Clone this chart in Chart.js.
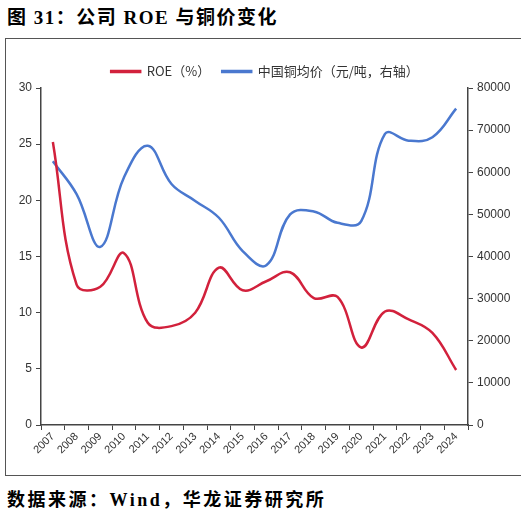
<!DOCTYPE html>
<html>
<head>
<meta charset="utf-8">
<script src="https://cdn.jsdelivr.net/npm/chart.js@4"></script>
<style>
  body { margin: 0; background: #fff; width: 521px; height: 517px; position: relative; overflow: hidden; }
  .title { position: absolute; left: 7px; top: 2px; font: bold 19px "Liberation Serif", "Noto Sans CJK SC"; letter-spacing: 1.5px; color: #000; }
  .frame { position: absolute; left: 5px; top: 38px; width: 520px; height: 438px; border: 1px solid #555; box-sizing: border-box; }
  .source { position: absolute; left: 7px; top: 485px; font: bold 18px "Liberation Serif", "Noto Sans CJK SC"; letter-spacing: 2.5px; color: #000; }
</style>
</head>
<body>
<div class="title">图 31：公司 ROE 与铜价变化</div>
<div class="frame"><canvas id="chart" width="518" height="436"></canvas></div>
<div class="source">数据来源：Wind，华龙证券研究所</div>
<script>
const years = ["2007","2008","2009","2010","2011","2012","2013","2014","2015",
               "2016","2017","2018","2019","2020","2021","2022","2023","2024"];
const roe = [25.2, 12.5, 12.3, 15.3, 9.1, 8.8, 10.0, 14.0, 12.0,
             12.8, 13.6, 11.3, 11.4, 6.9, 10.1, 9.4, 8.2, 4.9];
const copper = [62600, 54800, 42300, 58800, 66300, 57200, 53200, 49200, 41300,
                37900, 50000, 50700, 48000, 48400, 69100, 67500, 68300, 75100];

const axisColor = "#444";

new Chart(document.getElementById("chart"), {
    type: "line",
    data: {
        labels: years,
        datasets: [
            {
                label: "ROE（%）",
                data: roe,
                borderColor: "#d2213c",
                backgroundColor: "#d2213c",
                borderWidth: 2.5,
                pointRadius: 0,
                tension: 0.4,
                yAxisID: "y"
            },
            {
                label: "中国铜均价（元/吨，右轴）",
                data: copper,
                borderColor: "#4a78cf",
                backgroundColor: "#4a78cf",
                borderWidth: 2.5,
                pointRadius: 0,
                tension: 0.4,
                yAxisID: "y1"
            }
        ]
    },
    options: {
        responsive: false,
        animation: false,
        layout: { padding: { top: 14, right: 0, left: 0, bottom: 0 } },
        plugins: {
            tooltip: { enabled: false },
            legend: {
                position: "top",
                labels: {
                    boxWidth: 29,
                    boxHeight: 1,
                    padding: 12,
                    color: "#333",
                    font: { family: "'Noto Sans CJK SC'", size: 13 }
                }
            }
        },
        scales: {
            x: {
                offset: true,
                border: { color: axisColor, width: 1.5 },
                grid: { display: true, drawOnChartArea: false, drawTicks: true, tickLength: 5, color: axisColor, offset: true },
                ticks: {
                    color: "#333",
                    maxRotation: 45,
                    minRotation: 45,
                    padding: 0,
                    font: { family: "'Liberation Sans'", size: 11 }
                },
                afterFit: s => { s.height = 50; }
            },
            y: {
                position: "left",
                min: 0,
                max: 30,
                border: { color: axisColor, width: 1.5 },
                grid: { display: true, drawOnChartArea: false, drawTicks: true, tickLength: 5, color: axisColor },
                ticks: { stepSize: 5, color: "#333", padding: 4, font: { family: "'Liberation Sans'", size: 12 } },
                afterFit: s => { s.width = 35; }
            },
            y1: {
                position: "right",
                min: 0,
                max: 80000,
                border: { color: axisColor, width: 1.5 },
                grid: { display: true, drawOnChartArea: false, drawTicks: true, tickLength: 5, color: axisColor },
                ticks: {
                    stepSize: 10000,
                    color: "#333",
                    padding: 4,
                    font: { family: "'Liberation Sans'", size: 12 },
                    callback: v => String(v)
                },
                afterFit: s => { s.width = 56; }
            }
        }
    }
});
</script>
</body>
</html>
